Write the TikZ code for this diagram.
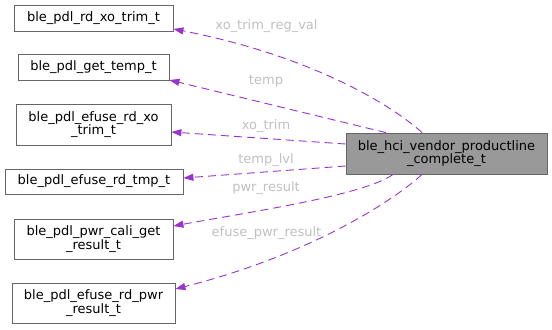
\documentclass[tikz,border=0pt]{standalone}
\usepackage{fontspec}
\setmainfont{DejaVu Sans}
\usetikzlibrary{arrows.meta}
\definecolor{edgecol}{HTML}{9A32CD}
\definecolor{boxline}{HTML}{666666}
\definecolor{mainfill}{HTML}{999999}
\definecolor{lblcol}{HTML}{C0C0C0}
\begin{document}
\begin{tikzpicture}[x=1bp,y=-1bp,
  box/.style={draw=boxline, line width=0.8bp, fill=white, inner sep=0pt, align=center,
    font=\fontsize{13bp}{13.3bp}\selectfont},
  mainbox/.style={box, fill=mainfill},
  edge/.style={draw=edgecol, line width=0.9bp, dash pattern=on 8bp off 5bp,
    -{Triangle[length=10bp,width=7bp]}},
  lbl/.style={text=lblcol, inner sep=0pt, font=\fontsize{13bp}{13.3bp}\selectfont}]
\useasboundingbox (0,0) rectangle (552,329);
\node[box, minimum width=159bp, minimum height=26bp] (b1) at (93.5,18) {ble\_pdl\_rd\_xo\_trim\_t};
\node[box, minimum width=151bp, minimum height=26bp] (b2) at (93.5,67) {ble\_pdl\_get\_temp\_t};
\node[box, minimum width=155bp, minimum height=41bp] (b3) at (93.5,124.5) {ble\_pdl\_efuse\_rd\_xo\\\_trim\_t};
\node[box, minimum width=178bp, minimum height=25bp] (b4) at (94,181.5) {ble\_pdl\_efuse\_rd\_tmp\_t};
\node[box, minimum width=159bp, minimum height=40bp] (b5) at (93.5,239) {ble\_pdl\_pwr\_cali\_get\\\_result\_t};
\node[box, minimum width=163bp, minimum height=40bp] (b6) at (93.5,303) {ble\_pdl\_efuse\_rd\_pwr\\\_result\_t};
\node[mainbox, minimum width=201bp, minimum height=41bp] (main) at (446.5,153.5) {ble\_hci\_vendor\_productline\\\_complete\_t};

\draw[edge] ([xshift=-24.5bp]main.north) .. controls (400,112) and (322,58) .. ([yshift=-11bp]b1.east);
\draw[edge] ([xshift=-60.5bp]main.north) -- ([yshift=-13bp]b2.east);
\draw[edge] ([yshift=9.5bp]main.west) -- ([yshift=-7.5bp]b3.east);
\draw[edge] ([yshift=-12.5bp]main.west) -- ([yshift=3.5bp]b4.east);
\draw[edge] ([xshift=-53.5bp]main.south) .. controls (365,195) and (250,212) .. ([yshift=13bp]b5.east);
\draw[edge] ([xshift=-24.5bp]main.south) .. controls (400,195) and (320,252) .. ([yshift=14bp]b6.east);

\node[lbl] (l1) at (266.5,26.5) {xo\_trim\_reg\_val};
\node[lbl] (l2) at (266,81.5) {temp};
\node[lbl] (l3) at (266,126.5) {xo\_trim};
\node[lbl] (l4) at (266,160) {temp\_lvl};
\node[lbl] (l5) at (266,188) {pwr\_result};
\node[lbl] (l6) at (266.5,233) {efuse\_pwr\_result};
\end{tikzpicture}
\end{document}
